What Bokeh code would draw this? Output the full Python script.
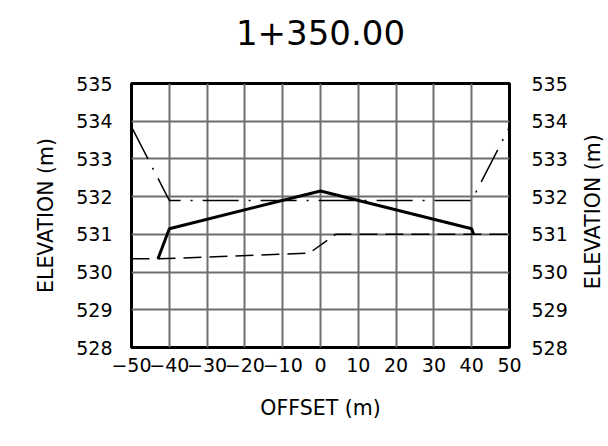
import math
from bokeh.plotting import figure
from bokeh.models import LinearAxis, FixedTicker, Range1d, Title
from bokeh.layouts import row
from bokeh.core.properties import value
from bokeh.embed import file_html
from bokeh.resources import INLINE

title_text = "1+350.00"
x_label = "OFFSET (m)"
y_label = "ELEVATION (m)"

x_ticks = [-50, -40, -30, -20, -10, 0, 10, 20, 30, 40, 50]
x_tick_labels = ["\u221250", "\u221240", "\u221230", "\u221220", "\u221210", "0", "10", "20", "30", "40", "50"]
y_ticks = [528, 529, 530, 531, 532, 533, 534, 535]

# existing ground (dashed)
eg_x = [-50, -43, -3, 4, 50]
eg_y = [530.35, 530.35, 530.5, 531.0, 531.0]
# design surface (solid thick)
ds_x = [-43, -40, 0, 40, 40.5]
ds_y = [530.35, 531.15, 532.15, 531.15, 531.0]
# dash-dot line
dd_x = [-50, -40, 40, 50]
dd_y = [533.85, 531.9, 531.9, 533.85]

FONT = "DejaVu Sans"
H = 440
TOP, BOTTOM = 83, 93

p = figure(width=572, height=H, output_backend="svg", toolbar_location=None,
           x_range=Range1d(-50, 50), y_range=Range1d(528, 535),
           min_border_left=131, min_border_right=63, min_border_top=TOP, min_border_bottom=BOTTOM)
p.title.text = title_text
p.title.text_font = FONT
p.title.text_font_size = "34px"
p.title.text_font_style = "normal"
p.title.text_color = "black"
p.title.align = "center"
p.title.standoff = 34
spacer = Title(text=" ", text_font_size="1px", standoff=19)
p.add_layout(spacer, "above")

p.outline_line_color = "black"
p.outline_line_width = 3

for g in (p.xgrid, p.ygrid):
    g.grid_line_color = "#6e6e6e"
    g.grid_line_width = 2
p.xgrid.ticker = FixedTicker(ticks=x_ticks)
p.ygrid.ticker = FixedTicker(ticks=y_ticks)

def style_axis(ax, ticks):
    ax.ticker = FixedTicker(ticks=ticks)
    ax.axis_line_color = None
    ax.major_tick_line_color = None
    ax.minor_tick_line_color = None
    ax.major_tick_out = 0
    ax.major_tick_in = 0
    ax.major_label_text_font = FONT
    ax.major_label_text_font_size = "19px"
    ax.major_label_text_color = "black"
    ax.axis_label_text_font = FONT
    ax.axis_label_text_font_size = "20.5px"
    ax.axis_label_text_font_style = "normal"
    ax.axis_label_text_color = "black"

xa = p.xaxis[0]
style_axis(xa, x_ticks)
xa.axis_label = x_label
xa.major_label_overrides = {t: s for t, s in zip(x_ticks, x_tick_labels)}
xa.major_label_standoff = 10
xa.axis_label_standoff = 21

ya = p.yaxis[0]
style_axis(ya, y_ticks)
ya.axis_label = y_label
ya.major_label_standoff = 19
ya.axis_label_standoff = 15

ra = LinearAxis()
style_axis(ra, y_ticks)
ra.major_label_standoff = 22
p.add_layout(ra, "right")

p.line(eg_x, eg_y, line_color="black", line_width=1.5, line_dash="18 8")
p.line(dd_x, dd_y, line_color="black", line_width=1.5, line_dash="36 10 2 10")
p.line(ds_x, ds_y, line_color="black", line_width=3)

# narrow companion figure holding the right-hand axis title (reads bottom to top)
p2 = figure(width=36, height=H, output_backend="svg", toolbar_location=None,
            x_range=Range1d(0, 1), y_range=Range1d(528, 535),
            x_axis_type=None, y_axis_type=None,
            min_border_left=0, min_border_right=0, min_border_top=TOP, min_border_bottom=BOTTOM)
p2.outline_line_color = None
p2.xgrid.visible = False
p2.ygrid.visible = False
p2.text(x=[0.58], y=[531.6], text=[y_label], angle=math.pi / 2,
        text_align="center", text_baseline="middle",
        text_font=value(FONT), text_font_size=value("20.5px"), text_color="black")

layout = row(p, p2, spacing=0)
open("out.html", "w").write(file_html(layout, INLINE))
